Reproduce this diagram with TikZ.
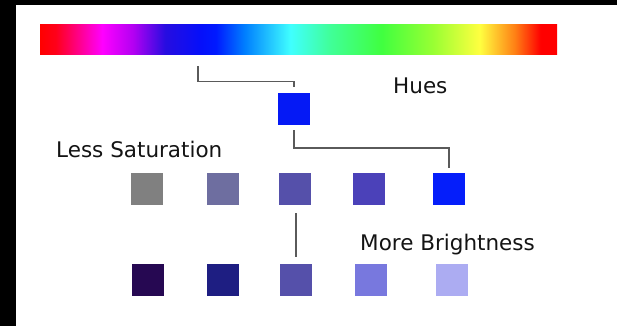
\documentclass[tikz,border=0pt]{standalone}
\usepackage{fontspec}
\setmainfont{DejaVu Sans}
\usetikzlibrary{calc}

% colour spectrum used for the hue bar (path spans 25bp..75bp of the shading)
\pgfdeclarehorizontalshading{spectrum}{100bp}{%
  rgb(0bp)=(1,0,0);
  rgb(25bp)=(1,0,0);
  rgb(26.5bp)=(1,0,0.1);
  rgb(31bp)=(1,0,1);
  rgb(34bp)=(0.7,0,0.95);
  rgb(37.1bp)=(0.15,0.05,0.88);
  rgb(40.5bp)=(0.02,0.06,0.98);
  rgb(42bp)=(0,0.1,1);
  rgb(44.8bp)=(0,0.5,1);
  rgb(49.2bp)=(0.25,1,1);
  rgb(53bp)=(0.25,1,0.6);
  rgb(58bp)=(0.25,1,0.25);
  rgb(63bp)=(0.6,1,0.2);
  rgb(67.5bp)=(1,1,0.25);
  rgb(70.9bp)=(1,0.5,0.08);
  rgb(73.4bp)=(1,0,0);
  rgb(75bp)=(1,0,0);
  rgb(100bp)=(1,0,0)}

\definecolor{txt}{RGB}{20,20,20}
\definecolor{wire}{RGB}{90,90,90}
\definecolor{hue}{RGB}{5,25,245}
\definecolor{satA}{RGB}{128,128,128}
\definecolor{satB}{RGB}{110,110,160}
\definecolor{satC}{RGB}{85,80,170}
\definecolor{satD}{RGB}{75,65,185}
\definecolor{satE}{RGB}{5,30,250}
\definecolor{briA}{RGB}{38,8,82}
\definecolor{briB}{RGB}{30,30,130}
\definecolor{briC}{RGB}{85,80,170}
\definecolor{briD}{RGB}{120,120,222}
\definecolor{briE}{RGB}{172,172,242}

\tikzset{
  swatch/.style={rectangle, draw=none, inner sep=0pt, minimum size=32pt},
  conn/.style={draw=wire, line width=1.6pt},
  caption/.style={anchor=base west, inner sep=0pt, text=txt,
                  font=\fontsize{21.5}{26}\selectfont}
}

\begin{document}
\begin{tikzpicture}[x=1pt, y=-1pt]
  % canvas and dark frame edges
  \useasboundingbox (0,0) rectangle (617,326);
  \fill[white] (0,0) rectangle (617,326);
  \fill[black] (0,0) rectangle (617,5);
  \fill[black] (0,0) rectangle (16,326);

  % spectrum bar
  \node[rectangle, inner sep=0pt, minimum width=517pt, minimum height=30pt,
        shading=spectrum, anchor=north west] (bar) at (40,24) {};

  % selected hue
  \node[swatch, fill=hue] (h) at (294,109) {};

  % saturation row
  \node[swatch, fill=satA] (s1) at (147,189) {};
  \node[swatch, fill=satB] (s2) at (223,189) {};
  \node[swatch, fill=satC] (s3) at (295,189) {};
  \node[swatch, fill=satD] (s4) at (369,189) {};
  \node[swatch, fill=satE] (s5) at (449,189) {};

  % brightness row
  \node[swatch, fill=briA] (b1) at (148,280) {};
  \node[swatch, fill=briB] (b2) at (223,280) {};
  \node[swatch, fill=briC] (b3) at (296,280) {};
  \node[swatch, fill=briD] (b4) at (371,280) {};
  \node[swatch, fill=briE] (b5) at (452,280) {};

  % labels
  \node[caption] (lh) at (393,94) {Hues};
  \node[caption] (ls) at (56,157) {Less Saturation};
  \node[caption] (lb) at (360,250) {More Brightness};

  % connectors
  \coordinate (tap) at ($(bar.south west)+(158,12)$);
  \draw[conn] (tap) -- ++(0,15) -| ([yshift=6pt]h.north);
  \draw[conn] ([yshift=-5pt]h.south) -- ++(0,18) -| ([yshift=5pt]s5.north);
  \draw[conn] ([yshift=-8pt]b3.north |- s3.south) -- ([yshift=7pt]b3.north);
\end{tikzpicture}
\end{document}
